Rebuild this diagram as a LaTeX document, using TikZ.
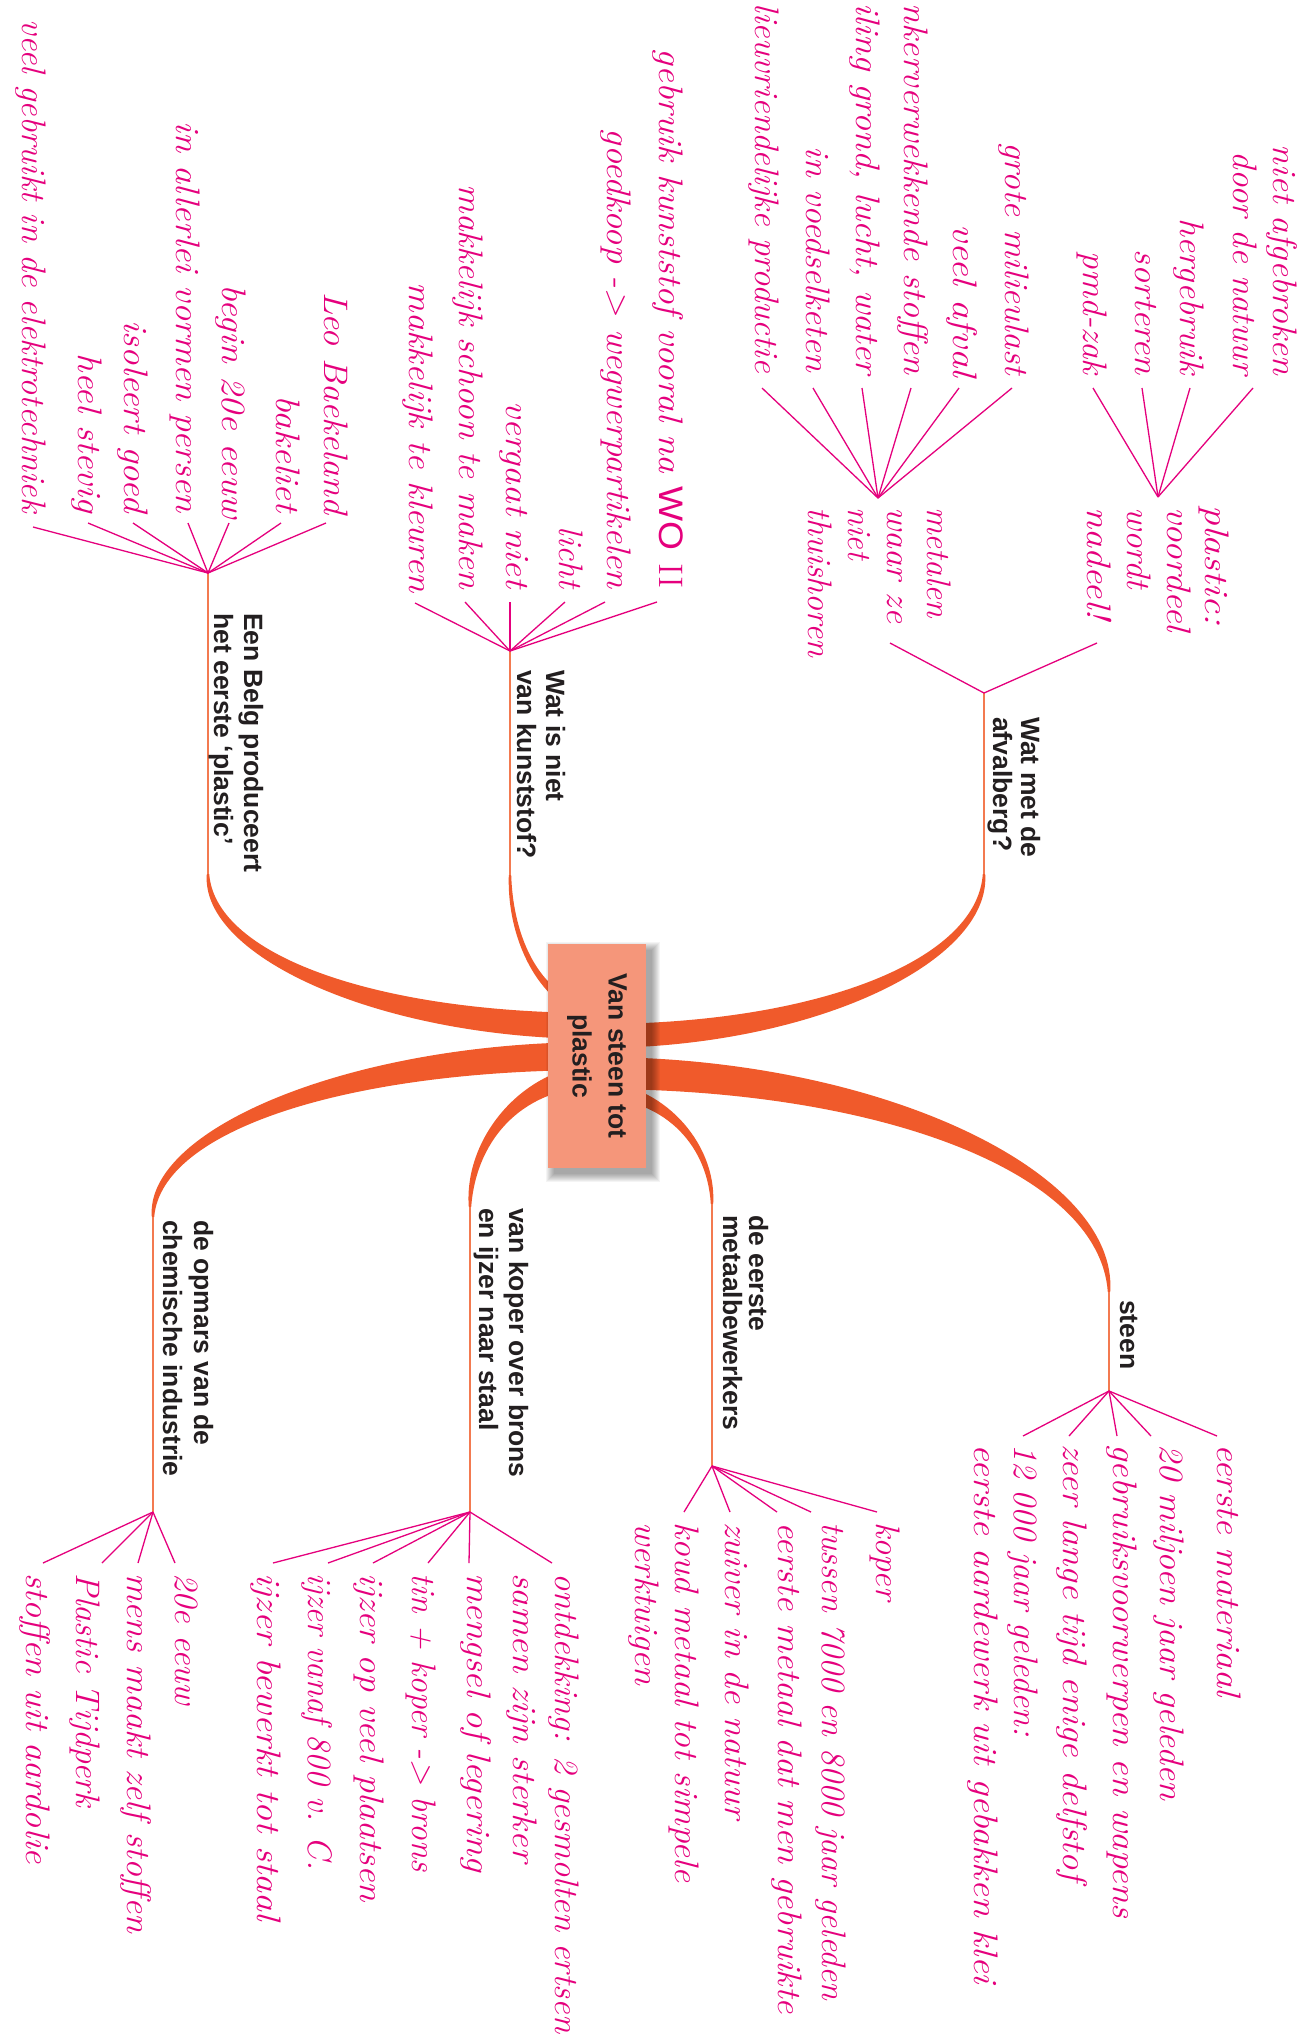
\documentclass[tikz,border=0pt]{standalone}
\usepackage{fontspec}
\usepackage{graphicx}
\newfontfamily\labfont{Liberation Sans}
\usetikzlibrary{calc}
\definecolor{bandcol}{HTML}{F05A2B}
\definecolor{stemcol}{HTML}{F37A50}
\definecolor{boxcol}{HTML}{F5967A}
\definecolor{leafcol}{HTML}{E5007D}
\definecolor{labcol}{HTML}{231F20}
\tikzset{
  leaf/.style={rotate=-90, inner sep=0pt, text=leafcol, font=\fontsize{34}{40}\selectfont\itshape\addfontfeatures{Numbers=OldStyle}},
  labtext/.style={rotate=-90, inner sep=0pt, text=labcol, font=\labfont\bfseries\fontsize{26.5}{32}\selectfont},
  leafline/.style={draw=leafcol, line width=1.3pt},
  stem/.style={draw=stemcol, line width=2pt},
  centre/.style={rotate=-90, fill=boxcol, minimum width=224pt, minimum height=98pt, align=center, inner sep=0pt, text=labcol, font=\labfont\bfseries\fontsize{26.5}{36}\selectfont},
}
% tapered branch: sx sy ex ey halfwidth a b
\newcommand\band[7]{%
  \pgfmathsetmacro\bdx{(#3>#1)?1:-1}%
  \pgfmathsetmacro\bdy{(#4>#2)?1:-1}%
  \pgfmathsetmacro\bcx{#1+#6*(#3-#1)}%
  \pgfmathsetmacro\bcy{#4+#7*(#2-#4)}%
  \pgfmathsetmacro\bhm{0.6*#5}%
  \fill[bandcol] (#1,{#2+\bdy*#5}) .. controls (\bcx,{#2+\bdy*#5}) and ({#3-\bdx*\bhm},\bcy) .. ({#3-\bdx*1.2},#4)
    -- ({#3+\bdx*1.2},#4) .. controls ({#3+\bdx*\bhm},\bcy) and (\bcx,{#2-\bdy*#5}) .. (#1,{#2-\bdy*#5}) -- cycle;
}
\newcommand\leafR[5]{\node[leaf,anchor=base east] (#1) at (#2,#3) {\resizebox{#4pt}{\height}{#5}};}
\newcommand\leafL[5]{\node[leaf,anchor=base west] (#1) at (#2,#3) {\resizebox{#4pt}{\height}{#5}};}
\newcommand\mylab[4]{\node[labtext,anchor=base west] (#1) at (#2,#3) {#4};}
\begin{document}
\begin{tikzpicture}[x=1pt,y=-1pt]
\useasboundingbox (0,0) rectangle (1309,2038);
\clip (0,0) rectangle (1309,2038);
\fill[white] (0,0) rectangle (1309,2038);

% ---- thick branches
\band{597}{1026}{208}{874}{13}{0.55}{0.55}
\band{597}{1010}{510}{875}{6}{0.55}{0.55}
\band{597}{1036}{984}{874}{12}{0.55}{0.55}
\band{597}{1073}{1109}{1292}{16}{0.55}{0.55}
\band{597}{1090}{712}{1204}{8}{0.55}{0.55}
\band{597}{1076}{470}{1207}{11}{0.55}{0.55}
\band{597}{1056}{153}{1217}{14}{0.55}{0.55}

% ---- shadow and central box
\foreach \e in {0,1,...,8}
  \fill[black,opacity=0.045] ({554-\e},{950-\e}) rectangle ({652+\e},{1174+\e});
\node[centre] (c) at (597,1056) {Van steen tot\\plastic};

% ---- branch ends and fans
\coordinate (eB) at (208,874);  \coordinate (fB) at (208,573);
\coordinate (eW) at (510,875);  \coordinate (fW) at (510,651);
\coordinate (eA) at (984,874);  \coordinate (fA) at (984,693);
\coordinate (eS) at (1109,1292); \coordinate (fS) at (1109,1391);
\coordinate (eM) at (712,1204); \coordinate (fM) at (712,1466);
\coordinate (eK) at (470,1207); \coordinate (fK) at (470,1512);
\coordinate (eO) at (153,1217); \coordinate (fO) at (153,1512);
\coordinate (fAm) at (878,498); \coordinate (fAp) at (1158,497);
\coordinate (am) at (890,643);  \coordinate (ap) at (1097,643);

\foreach \a/\b in {eB/fB,eW/fW,eA/fA,eS/fS,eM/fM,eK/fK,eO/fO}
  \draw[stem] (\a) -- (\b);

% ---- branch labels
\mylab{lB1}{244}{613}{Een Belg produceert}
\mylab{lB2}{214}{613}{het eerste ‘plastic’}
\mylab{lW1}{546}{670}{Wat is niet}
\mylab{lW2}{517}{670}{van kunststof?}
\mylab{lA1}{1021}{717}{Wat met de}
\mylab{lA2}{993}{717}{afvalberg?}
\mylab{lS}{1120}{1300}{steen}
\mylab{lM1}{749}{1215}{de eerste}
\mylab{lM2}{723}{1215}{metaalbewerkers}
\mylab{lK1}{509}{1208}{van koper over brons}
\mylab{lK2}{479}{1208}{en ijzer naar staal}
\mylab{lO1}{194}{1220}{de opmars van de}
\mylab{lO2}{163}{1220}{chemische industrie}

% ---- Belg leaves
\leafR{b1}{22}{513}{493}{veel gebruikt in de elektrotechniek}
\leafR{b2}{78}{513}{159}{heel stevig}
\leafR{b3}{124}{513}{192}{isoleert goed}
\leafR{b4}{176}{513}{391}{in allerlei vormen persen}
\leafR{b5}{222}{519}{234}{begin 20e eeuw}
\leafR{b6}{276}{513}{117}{bakeliet}
\leafR{b7}{324}{515}{222}{Leo Baekeland}
\coordinate (b1e) at (33,527); \coordinate (b2e) at (88,523); \coordinate (b3e) at (133,523);
\coordinate (b4e) at (188,523); \coordinate (b5e) at (229,523); \coordinate (b6e) at (281,523);
\coordinate (b7e) at (326,523);
\foreach \i in {1,...,7} \draw[leafline] (fB) -- (b\i e);

% ---- Wat is niet leaves
\leafR{w1}{409}{593}{310}{makkelijk te kleuren}
\leafR{w2}{459}{589}{404}{makkelijk schoon te maken}
\leafR{w3}{506}{589}{187}{vergaat niet}
\leafR{w4}{559}{589}{62}{licht}
\leafR{w5}{607}{589}{460}{goedkoop -> wegwerpartikelen}
\leafR{w6}{659}{589}{540}{gebruik kunststof vooral na {\upshape\labfont WO} {\upshape II}}
\coordinate (w1e) at (415,603); \coordinate (w2e) at (465,602); \coordinate (w3e) at (510,602);
\coordinate (w4e) at (565,602); \coordinate (w5e) at (605,602); \coordinate (w6e) at (657,602);
\foreach \i in {1,...,6} \draw[leafline] (fW) -- (w\i e);

% ---- afvalberg
\draw[leafline] (fA) -- (am);
\draw[leafline] (fA) -- (ap);
\leafL{m1}{927}{507}{111}{metalen}
\leafL{m2}{887}{507}{116}{waar ze}
\leafL{m3}{848}{507}{53}{niet}
\leafL{m4}{808}{507}{150}{thuishoren}
\leafL{p1}{1205}{505}{120}{plastic:}
\leafL{p2}{1167}{507}{125}{voordeel}
\leafL{p3}{1127}{507}{82}{wordt}
\leafL{p4}{1087}{507}{113}{nadeel!}

\leafR{pa}{1273}{375}{230}{niet afgebroken}
\leafR{pb}{1233}{375}{223}{door de natuur}
\leafR{pc}{1180}{375}{156}{hergebruik}
\leafR{pd}{1135}{375}{125}{sorteren}
\leafR{pe}{1083}{375}{123}{pmd-zak}
\coordinate (pbe) at (1253,388); \coordinate (pce) at (1190,388);
\coordinate (pde) at (1142,388); \coordinate (pee) at (1093,388);
\foreach \i in {b,c,d,e} \draw[leafline] (fAp) -- (p\i e);

\leafR{ma}{1005}{375}{232}{grote milieulast}
\leafR{mb}{953}{378}{153}{veel afval}
\leafR{mc}{904}{375}{371}{nkerverwekkende stoffen}
\leafR{md}{856}{375}{371}{iling grond, lucht, water}
\leafR{me}{806}{372}{225}{in voedselketen}
\leafR{mf}{755}{373}{369}{lieuvriendelijke productie}
\coordinate (mae) at (1012,388); \coordinate (mbe) at (959,388); \coordinate (mce) at (911,388);
\coordinate (mde) at (862,388); \coordinate (mee) at (813,388); \coordinate (mfe) at (762,388);
\foreach \i in {a,b,c,d,e,f} \draw[leafline] (fAm) -- (m\i e);

% ---- steen leaves
\leafL{s1}{1217}{1444}{253}{eerste materiaal}
\leafL{s2}{1160}{1444}{356}{20 miljoen jaar geleden}
\leafL{s3}{1113}{1444}{474}{gebruiksvoorwerpen en wapens}
\leafL{s4}{1063}{1444}{437}{zeer lange tijd enige delfstof}
\leafL{s5}{1014}{1444}{292}{12 000 jaar geleden:}
\leafL{s6}{974}{1444}{540}{eerste aardewerk uit gebakken klei}
\coordinate (s1e) at (1217,1436); \coordinate (s2e) at (1151,1436); \coordinate (s3e) at (1117,1436);
\coordinate (s4e) at (1069,1436); \coordinate (s5e) at (1023,1436);
\foreach \i in {1,...,5} \draw[leafline] (fS) -- (s\i e);

% ---- metaalbewerkers leaves
\leafL{t1}{876}{1522}{78}{koper}
\leafL{t2}{822}{1522}{478}{tussen 7000 en 8000 jaar geleden}
\leafL{t3}{778}{1522}{492}{eerste metaal dat men gebruikte}
\leafL{t4}{725}{1522}{297}{zuiver in de natuur}
\leafL{t5}{675}{1522}{360}{koud metaal tot simpele}
\leafL{t6}{635}{1522}{163}{werktuigen}
\coordinate (t1e) at (877,1512); \coordinate (t2e) at (811,1512); \coordinate (t3e) at (777,1512);
\coordinate (t4e) at (730,1512); \coordinate (t5e) at (684,1512);
\foreach \i in {1,...,5} \draw[leafline] (fM) -- (t\i e);

% ---- koper/brons leaves
\leafL{k1}{555}{1573}{460}{ontdekking: 2 gesmolten ertsen}
\leafL{k2}{513}{1573}{289}{samen zijn sterker}
\leafL{k3}{467}{1573}{299}{mengsel of legering}
\leafL{k4}{412}{1573}{299}{tin + koper -> brons}
\leafL{k5}{360}{1573}{329}{ijzer op veel plaatsen}
\leafL{k6}{308}{1573}{297}{ijzer vanaf 800 v. C.}
\leafL{k7}{257}{1573}{348}{ijzer bewerkt tot staal}
\coordinate (k1e) at (552,1563); \coordinate (k3e) at (469,1563); \coordinate (k4e) at (428,1563);
\coordinate (k5e) at (373,1563); \coordinate (k6e) at (328,1563); \coordinate (k7e) at (273,1563);
\foreach \i in {1,3,4,5,6,7} \draw[leafline] (fK) -- (k\i e);

% ---- opmars leaves
\leafL{o1}{175}{1573}{132}{20e eeuw}
\leafL{o2}{127}{1573}{360}{mens maakt zelf stoffen}
\leafL{o3}{76}{1573}{234}{Plastic Tijdperk}
\leafL{o4}{26}{1573}{291}{stoffen uit aardolie}
\coordinate (o1e) at (175,1563); \coordinate (o2e) at (138,1563);
\coordinate (o3e) at (102,1563); \coordinate (o4e) at (43,1563);
\foreach \i in {1,...,4} \draw[leafline] (fO) -- (o\i e);
\end{tikzpicture}
\end{document}
